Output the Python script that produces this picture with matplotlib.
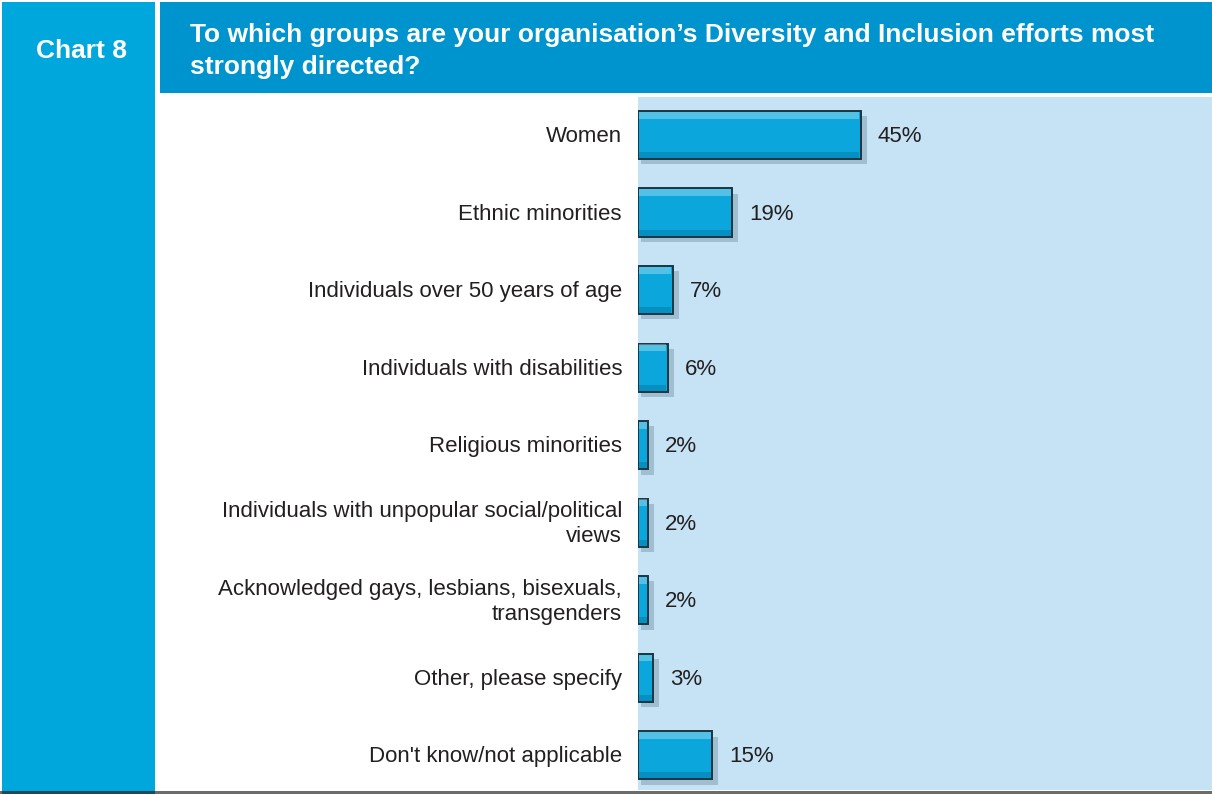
import matplotlib.pyplot as plt
from matplotlib.patches import Rectangle

# survey answers, top to bottom
groups = [
    "Women",
    "Ethnic minorities",
    "Individuals over 50 years of age",
    "Individuals with disabilities",
    "Religious minorities",
    "Individuals with unpopular social/political\nviews",
    "Acknowledged gays, lesbians, bisexuals,\ntransgenders",
    "Other, please specify",
    "Don't know/not applicable",
]
shares = [45, 19, 7, 6, 2, 2, 2, 3, 15]

chart_no = "Chart 8"
question = ("To which groups are your organisation\u2019s Diversity and Inclusion efforts most\n"
            "strongly directed?")

W, H = 1212, 794
plt.rcParams['font.family'] = ['Liberation Sans', 'DejaVu Sans']

fig = plt.figure(figsize=(W / 100, H / 100), dpi=100)
fig.patch.set_facecolor('white')

def px_rect(x0, y0, x1, y1, color, z=0):
    # rectangle given in pixel coords measured from the top-left
    fig.patches.append(Rectangle((x0 / W, 1 - y1 / H), (x1 - x0) / W, (y1 - y0) / H,
                                 transform=fig.transFigure, facecolor=color,
                                 edgecolor='none', zorder=z))

px_rect(2, 2, 155, 791, '#00a7dc')
px_rect(160, 2, 1212, 93, '#0094cf')
px_rect(0, 791, 1212, 794, '#6b6b6b')
px_rect(2, 791, 155, 794, '#1d4a5a')

fig.text(81 / W, 1 - 51 / H, chart_no, color='white', fontsize=19, fontweight='bold',
         ha='center', va='center')
fig.text(190 / W, 1 - 51 / H, question, color='white', fontsize=19, fontweight='bold',
         ha='left', va='center', linespacing=1.38)

ax = fig.add_axes([638 / W, 4 / H, (W - 638) / W, (790 - 97) / H])
ax.set_facecolor('#c5e3f5')
for s in ax.spines.values():
    s.set_visible(False)
ax.set_xticks([])
ax.set_yticks([])
ax.set_xlim(0, 116)
ax.set_ylim(8.45, -0.49)

ypos = list(range(len(groups)))
bh = 0.62

# drop shadow, then the bar, then bevel highlights
ax.barh([y + 0.07 for y in ypos], [v + 0.6 for v in shares], left=0.6, height=bh,
        color='#7d9aab', alpha=0.5, zorder=1)
ax.barh(ypos, shares, height=bh, color='#0aa6dc', edgecolor='#1c3542',
        linewidth=1.4, zorder=2)
ax.barh([y - bh / 2 + bh * 0.09 for y in ypos], [v - 0.5 for v in shares], left=0.25,
        height=bh * 0.14, color='white', alpha=0.3, linewidth=0, zorder=3)
ax.barh([y + bh / 2 - bh * 0.08 for y in ypos], [v - 0.5 for v in shares], left=0.25,
        height=bh * 0.12, color='#005f85', alpha=0.3, linewidth=0, zorder=3)

for y, v, g in zip(ypos, shares, groups):
    ax.text(v + 3.4, y + 0.02, f"{v}%", fontsize=16, color='#231f20', ha='left',
            va='center', zorder=4)
    ax.annotate(g, xy=(0, y + 0.02), xycoords='data', xytext=(-16, 0),
                textcoords='offset pixels', ha='right', va='center', fontsize=16,
                color='#231f20', multialignment='right', linespacing=1.25,
                annotation_clip=False)

fig.savefig('out.png', dpi=100)
